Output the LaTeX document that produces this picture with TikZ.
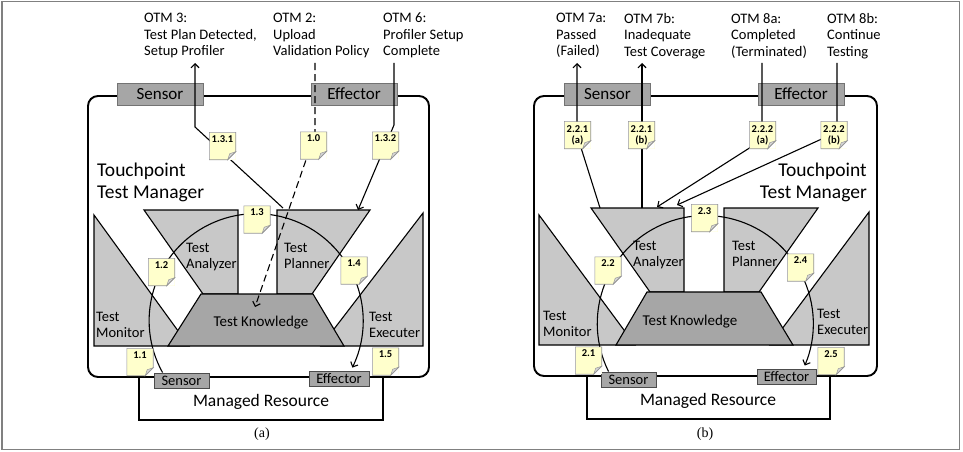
\documentclass[tikz,border=0pt]{standalone}
\usepackage{fontspec}
\setmainfont{Carlito}
\newfontfamily\capfont{Liberation Serif}
\definecolor{compgray}{RGB}{200,200,200}
\definecolor{kngray}{RGB}{166,166,166}
\definecolor{iogray}{RGB}{166,166,166}
\definecolor{noteyel}{RGB}{255,255,204}
\definecolor{notebord}{RGB}{150,150,150}
\definecolor{foldgray}{RGB}{215,215,215}
\definecolor{framegray}{RGB}{128,128,128}
\usetikzlibrary{arrows.meta, positioning, calc}

\begin{document}
\begin{tikzpicture}[x=1pt, y=-1pt,
  comp/.style={draw, fill=compgray, line width=1.1pt},
  know/.style={draw, fill=kngray, line width=1.1pt},
  mgr/.style={draw, fill=white, line width=1.9pt, rounded corners=10pt},
  iobox/.style={draw=black!70, fill=iogray, line width=0.9pt, minimum height=15pt, inner sep=0pt, font=\fontsize{14.5}{15}\selectfont},
  portbox/.style={draw=black!55, fill=iogray, line width=0.8pt, minimum width=86pt, minimum height=22pt, inner sep=0pt, font=\fontsize{17}{17}\selectfont},
  notecard/.style={fill=noteyel, minimum width=26pt, minimum height=27pt, inner sep=0pt, align=center, font=\bfseries\fontsize{10.5}{11}\selectfont},
  otm/.style={anchor=north west, inner sep=0pt, align=left, font=\fontsize{14.5}{16.5}\selectfont},
  lbl/.style={anchor=north west, inner sep=0pt, align=left, font=\fontsize{14.5}{15.5}\selectfont},
  title/.style={inner sep=0pt, font=\fontsize{19.5}{22}\selectfont},
  caption/.style={inner sep=0pt, font=\capfont\fontsize{14}{15}\selectfont},
  flow/.style={line width=1.1pt, -{Straight Barb[length=4pt,width=8pt]}}
]
  \useasboundingbox (0,0) rectangle (963,452);
  \draw[framegray, line width=1.5pt] (2,1.5) rectangle (959.5,449.5);
  \coordinate (otmfoot) at (0,63);

  % ---------------- (a) ----------------
  \draw[line width=1.9pt] (139,377) -- (139,420) -- (383,420) -- (383,377);
  \draw[mgr] (88,96) rectangle (429,377);
  \node[font=\fontsize{17.5}{18}\selectfont] (mrA) at (261,402) {Managed Resource};
  \node[caption] (capA) at (262,434) {(a)};

  % components
  \draw[comp] (94,215) -- (94,346) -- (189,346) -- cycle;
  \draw[comp] (423,213) -- (423,346) -- (321,346) -- cycle;
  \draw[comp] (144,210) -- (238,210) -- (238,294) -- (203,294) -- cycle;
  \draw[comp] (277,210) -- (370,210) -- (312,294) -- (277,294) -- cycle;
  \draw[know] (201,294) -- (313,294) -- (344,346) -- (168,346) -- cycle;
  \node[lbl] (monA) at (96,312) {Test\\Monitor};
  \node[lbl] (exeA) at (369,312) {Test\\Executer};
  \node[lbl] (anaA) at (186,243) {Test\\Analyzer};
  \node[lbl] (plaA) at (284,243) {Test\\Planner};
  \node[font=\fontsize{15}{15}\selectfont] (knoA) at (261,323) {Test Knowledge};
  \node[title, anchor=north west, align=left] (tpA) at (97,163) {Touchpoint\\Test Manager};

  % ports
  \node[portbox] (senTA) at (160,94) {Sensor};
  \node[portbox] (effTA) at (354,94) {Effector};
  \node[iobox, minimum width=55pt] (senA) at (181.5,380.5) {Sensor};
  \node[iobox, minimum width=60pt] (effA) at (339,378.5) {Effector};

  % loop
  \draw[flow] ([xshift=9pt]senA.north west) arc[start angle=151, end angle=386, radius=107];

  % OTM messages
  \node[otm] (otm3) at (144,13) {OTM 3:\\Test Plan Detected,\\Setup Profiler};
  \node[otm] (otm2) at (273,13) {OTM 2:\\Upload\\Validation Policy};
  \node[otm] (otm6) at (383,13) {OTM 6:\\Profiler Setup\\Complete};

  \coordinate (plA1) at (283,208);
  \coordinate (bendA1) at (195,127);
  \coordinate (kA) at (255,307);
  \coordinate (kinkA) at (315,134);
  \coordinate (plA2) at (358,210);
  \coordinate (kinkA2) at (394,125);
  \draw[flow] (plA1) -- (bendA1) -- (bendA1 |- otmfoot);
  \draw[flow, dash pattern=on 7pt off 4pt] (kinkA |- otmfoot) -- (kinkA) -- (kA);
  \draw[flow] (kinkA2 |- otmfoot) -- (kinkA2) -- (plA2);

  % notes
  \node[notecard] (n131) at (222.5,146) {1.3.1\\[3pt]};
  \node[notecard] (n10) at (313.5,145.5) {1.0\\[3pt]};
  \node[notecard] (n132) at (385.5,145.5) {1.3.2\\[3pt]};
  \node[notecard] (n11) at (140,362) {1.1\\[3pt]};
  \node[notecard] (n12) at (161.5,272) {1.2\\[3pt]};
  \node[notecard] (n13) at (257,219.5) {1.3\\[3pt]};
  \node[notecard] (n14) at (354,270.5) {1.4\\[3pt]};
  \node[notecard] (n15) at (385.5,361.5) {1.5\\[3pt]};

  % ---------------- (b) ----------------
  \draw[line width=1.9pt] (587,376) -- (587,419) -- (830,419) -- (830,376);
  \draw[mgr] (534,96) rectangle (877,376);
  \node[font=\fontsize{17.5}{18}\selectfont] (mrB) at (708,401) {Managed Resource};
  \node[caption] (capB) at (705,434) {(b)};

  % components
  \draw[comp] (539,215) -- (539,345) -- (635,345) -- cycle;
  \draw[comp] (869,212) -- (869,345) -- (770,345) -- cycle;
  \draw[comp] (591,208) -- (684,208) -- (684,292) -- (650,292) -- cycle;
  \draw[comp] (724,208) -- (818,208) -- (759,292) -- (724,292) -- cycle;
  \draw[know] (647,292) -- (761,292) -- (793,345) -- (616,345) -- cycle;
  \node[lbl] (monB) at (543,311) {Test\\Monitor};
  \node[lbl] (exeB) at (817,309) {Test\\Executer};
  \node[lbl] (anaB) at (633,241) {Test\\Analyzer};
  \node[lbl] (plaB) at (732,241) {Test\\Planner};
  \node[font=\fontsize{15}{15}\selectfont] (knoB) at (690,322) {Test Knowledge};
  \node[title, anchor=north east, align=right] (tpB) at (867,163) {Touchpoint\\Test Manager};

  % ports
  \node[portbox] (senTB) at (607.5,94) {Sensor};
  \node[portbox] (effTB) at (801,94) {Effector};
  \node[iobox, minimum width=55pt] (senB) at (628.5,379.5) {Sensor};
  \node[iobox, minimum width=59pt] (effB) at (786.5,376.5) {Effector};

  % loop
  \draw[flow] ([xshift=8pt]senB.north west) arc[start angle=153.6, end angle=382.9, radius=108];

  % OTM messages
  \node[otm] (otm7a) at (556,13) {OTM 7a:\\Passed\\(Failed)};
  \node[otm] (otm7b) at (624,13) {OTM 7b:\\Inadequate\\Test Coverage};
  \node[otm] (otm8a) at (731,13) {OTM 8a:\\Completed\\(Terminated)};
  \node[otm] (otm8b) at (827,13) {OTM 8b:\\Continue\\Testing};

  \coordinate (anB1) at (600,208);
  \coordinate (bendB1) at (577,135);
  \coordinate (anB2) at (642,208);
  \coordinate (anB3) at (657,207);
  \coordinate (kinkB3) at (762,140);
  \coordinate (anB4) at (677,205);
  \coordinate (kinkB4) at (837,132);
  \draw[flow] (anB1) -- (bendB1) -- (bendB1 |- otmfoot);
  \draw[flow] (anB2) -- (anB2 |- otmfoot);
  \draw[flow] (kinkB3 |- otmfoot) -- (kinkB3) -- (anB3);
  \draw[flow] (kinkB4 |- otmfoot) -- (kinkB4) -- (anB4);

  % notes
  \node[notecard] (n221a) at (577.5,135) {2.2.1\\(a)};
  \node[notecard] (n221b) at (641.5,135) {2.2.1\\(b)};
  \node[notecard] (n222a) at (762.5,135) {2.2.2\\(a)};
  \node[notecard] (n222b) at (834,135) {2.2.2\\(b)};
  \node[notecard] (n21) at (588.5,360.5) {2.1\\[3pt]};
  \node[notecard] (n22) at (608,270.5) {2.2\\[3pt]};
  \node[notecard] (n23) at (704.5,218) {2.3\\[3pt]};
  \node[notecard] (n24) at (800.5,267.5) {2.4\\[3pt]};
  \node[notecard] (n25) at (831,361) {2.5\\[3pt]};

  % folded corners
  \foreach \n in {n131,n10,n132,n11,n12,n13,n14,n15,n221a,n221b,n222a,n222b,n21,n22,n23,n24,n25} {
    \fill[white] ([xshift=-8pt]\n.south east) -- (\n.south east) -- ([yshift=8pt]\n.south east) -- cycle;
    \filldraw[draw=notebord, fill=foldgray, line width=0.5pt] ([xshift=-8pt]\n.south east) -- ([xshift=-6pt,yshift=6pt]\n.south east) -- ([yshift=8pt]\n.south east) -- cycle;
    \draw[notebord, line width=0.6pt] (\n.north west) -- (\n.north east) -- ([yshift=8pt]\n.south east) -- ([xshift=-8pt]\n.south east) -- (\n.south west) -- cycle;
  }
\end{tikzpicture}
\end{document}
